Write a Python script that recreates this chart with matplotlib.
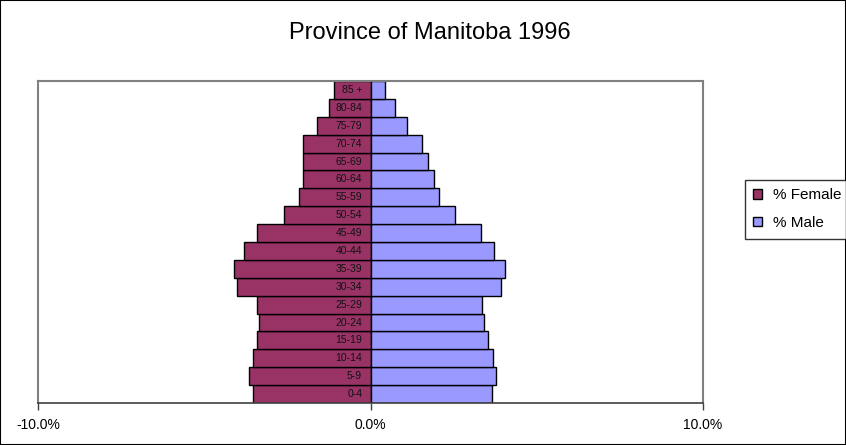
import matplotlib
matplotlib.use("Agg")
import matplotlib.pyplot as plt
from matplotlib.patches import Patch, Rectangle

plt.rcParams['font.family'] = ['Liberation Sans', 'DejaVu Sans']

categories = ["0-4", "5-9", "10-14", "15-19", "20-24", "25-29", "30-34", "35-39",
              "40-44", "45-49", "50-54", "55-59", "60-64", "65-69", "70-74",
              "75-79", "80-84", "85 +"]
female = [3.53, 3.65, 3.53, 3.41, 3.36, 3.40, 4.02, 4.10, 3.81, 3.40, 2.60, 2.15,
          2.03, 2.03, 2.03, 1.62, 1.26, 1.11]
male = [3.64, 3.76, 3.69, 3.52, 3.40, 3.36, 3.92, 4.05, 3.72, 3.32, 2.55, 2.06,
        1.91, 1.74, 1.54, 1.10, 0.73, 0.44]
xticks = [-10, 0, 10]
xticklabels = ["-10.0%", "0.0%", "10.0%"]
title = "Province of Manitoba 1996"

fig = plt.figure(figsize=(8.46, 4.45), dpi=100)
ax = fig.add_axes([38/846, 42/445, (703-38)/846, (403-81)/445])

y = list(range(len(categories)))
ax.barh(y, [-v for v in female], height=1.0, color="#993366", edgecolor="black",
        linewidth=1.0, label="% Female")
ax.barh(y, male, height=1.0, color="#9999FF", edgecolor="black",
        linewidth=1.0, label="% Male")

for yi, cat in zip(y, categories):
    ax.text(-0.25, yi, cat, ha="right", va="center", fontsize=7.5, color="#111111")

ax.set_xlim(-10, 10)
ax.set_ylim(-0.5, len(categories) - 0.5)
ax.set_yticks([])
ax.set_xticks(xticks)
ax.set_xticklabels(xticklabels, fontsize=10)
ax.tick_params(axis="x", direction="out", length=5, width=1, color="#404040", pad=6)
for side in ["top", "left", "right"]:
    ax.spines[side].set_color("#808080")
    ax.spines[side].set_linewidth(1.5)
ax.spines["bottom"].set_color("#404040")
ax.spines["bottom"].set_linewidth(1.2)

fig.text(430/846, 1 - 33/445, title, ha="center", va="center", fontsize=17)

handles = [Patch(facecolor="#993366", edgecolor="black", label="% Female"),
           Patch(facecolor="#9999FF", edgecolor="black", label="% Male")]
leg = fig.legend(handles=handles, loc="upper left",
                 bbox_to_anchor=(745/846, 1 - 180/445), fontsize=11,
                 frameon=True, fancybox=False, handlelength=0.55, handleheight=0.55,
                 handletextpad=0.7, borderpad=0.55, labelspacing=0.9,
                 borderaxespad=0)
leg.get_frame().set_edgecolor("black")
leg.get_frame().set_linewidth(1.0)

fig.patches.append(Rectangle((0, 0), 1, 1, transform=fig.transFigure, fill=False,
                             edgecolor="black", linewidth=1.5))

fig.savefig("out.png", dpi=100)
